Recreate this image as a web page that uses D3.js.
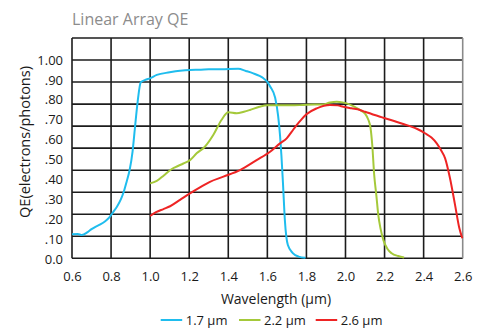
<!DOCTYPE html>
<html>
<head>
  <meta charset="utf-8">
  <title>Linear Array QE</title>
  <script src="https://d3js.org/d3.v7.min.js"></script>
  <style>
    body { margin: 0; background: #fff; }
    svg text { font-family: "Open Sans", "Noto Sans", sans-serif; fill: #1a1a1a; }
    .line { fill: none; stroke-width: 2px; stroke-linejoin: round; }
  </style>
</head>
<body>
  <div id="chart"></div>
  <script>
    // Data (wavelength in µm, QE 0..1)
    const xTicks = [0.6, 0.8, 1.0, 1.2, 1.4, 1.6, 1.8, 2.0, 2.2, 2.4, 2.6];
    const yTicks = [0, 0.1, 0.2, 0.3, 0.4, 0.5, 0.6, 0.7, 0.8, 0.9, 1.0];
    const yTickLabels = ["0.0", ".10", ".20", ".30", ".40", ".50", ".60", ".70", ".80", ".90", "1.00"];
    const seriesNames = ["1.7 µm", "2.2 µm", "2.6 µm"];
    const seriesColors = ["#1fbdee", "#a5c93a", "#ee2424"];

    const qe17 = [
      [0.60, 0.124], [0.63, 0.126], [0.65, 0.12], [0.68, 0.135], [0.70, 0.15], [0.72, 0.162],
      [0.745, 0.174], [0.77, 0.19], [0.79, 0.208], [0.81, 0.235], [0.83, 0.263], [0.85, 0.30],
      [0.865, 0.338], [0.88, 0.39], [0.895, 0.447], [0.91, 0.54], [0.922, 0.657], [0.936, 0.79],
      [0.952, 0.888], [0.975, 0.90], [1.0, 0.908], [1.034, 0.925], [1.10, 0.938], [1.153, 0.946],
      [1.204, 0.95], [1.26, 0.951], [1.30, 0.953], [1.358, 0.953], [1.40, 0.955], [1.451, 0.956],
      [1.49, 0.945], [1.528, 0.933], [1.56, 0.92], [1.58, 0.908], [1.60, 0.89], [1.615, 0.866],
      [1.64, 0.81], [1.655, 0.72], [1.665, 0.62], [1.672, 0.52], [1.68, 0.38], [1.69, 0.19],
      [1.705, 0.07], [1.73, 0.03], [1.76, 0.012], [1.795, 0.006]
    ];
    const qe22 = [
      [1.0, 0.38], [1.034, 0.392], [1.07, 0.42], [1.10, 0.445], [1.13, 0.462], [1.17, 0.48],
      [1.204, 0.497], [1.238, 0.531], [1.28, 0.564], [1.323, 0.623], [1.366, 0.70], [1.40, 0.737],
      [1.443, 0.732], [1.48, 0.74], [1.511, 0.749], [1.56, 0.765], [1.60, 0.772], [1.665, 0.772],
      [1.72, 0.772], [1.784, 0.774], [1.84, 0.776], [1.886, 0.777], [1.92, 0.786], [1.955, 0.79],
      [1.985, 0.787], [2.006, 0.782], [2.04, 0.768], [2.074, 0.749], [2.10, 0.73], [2.117, 0.70],
      [2.128, 0.66], [2.137, 0.573], [2.147, 0.422], [2.158, 0.32], [2.168, 0.221], [2.18, 0.15],
      [2.194, 0.095], [2.215, 0.05], [2.236, 0.029], [2.27, 0.015], [2.30, 0.008]
    ];
    const qe26 = [
      [1.0, 0.216], [1.03, 0.235], [1.068, 0.251], [1.102, 0.265], [1.153, 0.297], [1.204, 0.33],
      [1.255, 0.36], [1.306, 0.388], [1.375, 0.414], [1.46, 0.447], [1.545, 0.497], [1.614, 0.539],
      [1.665, 0.581], [1.699, 0.606], [1.725, 0.64], [1.75, 0.673], [1.775, 0.702], [1.80, 0.727],
      [1.853, 0.757], [1.92, 0.774], [1.96, 0.772], [1.989, 0.765], [2.03, 0.757], [2.074, 0.749],
      [2.10, 0.74], [2.177, 0.715], [2.202, 0.707], [2.26, 0.69], [2.322, 0.67], [2.37, 0.652],
      [2.407, 0.632], [2.44, 0.61], [2.467, 0.581], [2.49, 0.545], [2.51, 0.506], [2.535, 0.406],
      [2.561, 0.271], [2.583, 0.154], [2.598, 0.104]
    ];
    const seriesValues = [qe17, qe22, qe26];
    const gridRows = 10;

    const width = 485, height = 329;
    const plot = {left: 72, right: 462.7, top: 38, bottom: 258.3};

    const svg = d3.select("#chart")
      .append("svg")
        .attr("width", width)
        .attr("height", height);

    const x = d3.scaleLinear().domain([0.6, 2.6]).range([plot.left, plot.right]);
    const y = d3.scaleLinear().domain([0, 1]).range([259, 60]);
    const gridY = d3.scaleLinear().domain([0, gridRows]).range([plot.bottom, plot.top]);

    // Title
    svg.append("text")
      .attr("x", 72)
      .attr("y", 24.5)
      .style("font-size", "16px")
      .style("fill", "#8c8c8c")
      .text("Linear Array QE");

    // Grid
    const grid = svg.append("g").attr("stroke", "#1c1c1c").attr("stroke-width", 1.6);
    grid.selectAll(".hgrid")
      .data(d3.range(gridRows + 1))
      .join("line")
        .attr("x1", plot.left).attr("x2", plot.right)
        .attr("y1", d => gridY(d)).attr("y2", d => gridY(d));
    grid.selectAll(".vgrid")
      .data(xTicks)
      .join("line")
        .attr("x1", d => x(d)).attr("x2", d => x(d))
        .attr("y1", plot.top).attr("y2", plot.bottom)
        .attr("stroke", d => d === 2.6 ? "#8a8a8a" : null);

    // X axis
    const xAxis = svg.append("g")
      .attr("transform", `translate(0,${plot.bottom})`)
      .call(d3.axisBottom(x).tickValues(xTicks).tickFormat(d3.format(".1f")).tickSize(0).tickPadding(13));
    xAxis.select(".domain").remove();
    xAxis.selectAll("text").style("font-size", "13px").style("fill", "#1a1a1a").style("font-family", "'Open Sans', sans-serif");

    // Y axis
    const yAxis = svg.append("g")
      .attr("transform", `translate(${plot.left},0)`)
      .call(d3.axisLeft(y).tickValues(yTicks).tickFormat((d, i) => yTickLabels[i]).tickSize(0).tickPadding(9));
    yAxis.select(".domain").remove();
    yAxis.selectAll("text").style("font-size", "13px").style("fill", "#1a1a1a").style("font-family", "'Open Sans', sans-serif");

    // Axis titles
    svg.append("text")
      .attr("x", 276)
      .attr("y", 304)
      .style("text-anchor", "middle")
      .style("font-size", "14px")
      .text("Wavelength (µm)");

    svg.append("text")
      .attr("transform", "rotate(-90)")
      .attr("x", -142)
      .attr("y", 29.5)
      .style("text-anchor", "middle")
      .style("font-size", "14.5px")
      .text("QE(electrons/photons)");

    // Lines
    const line = d3.line().x(d => x(d[0])).y(d => y(d[1])).curve(d3.curveMonotoneX);
    svg.selectAll(".line")
      .data(seriesValues)
      .join("path")
        .attr("class", "line")
        .attr("d", d => line(d))
        .attr("stroke", (d, i) => seriesColors[i]);

    // Legend
    const legendX = [160.7, 239, 315.7];
    const legend = svg.append("g").attr("transform", "translate(0,320)");
    seriesNames.forEach((name, i) => {
      const row = legend.append("g").attr("transform", `translate(${legendX[i]},0)`);
      row.append("line")
        .attr("x1", 0).attr("x2", 21.5)
        .attr("stroke", seriesColors[i])
        .attr("stroke-width", 2);
      row.append("text")
        .attr("x", 25)
        .attr("y", 4.5)
        .style("font-size", "13px")
        .text(name);
    });
  </script>
</body>
</html>
